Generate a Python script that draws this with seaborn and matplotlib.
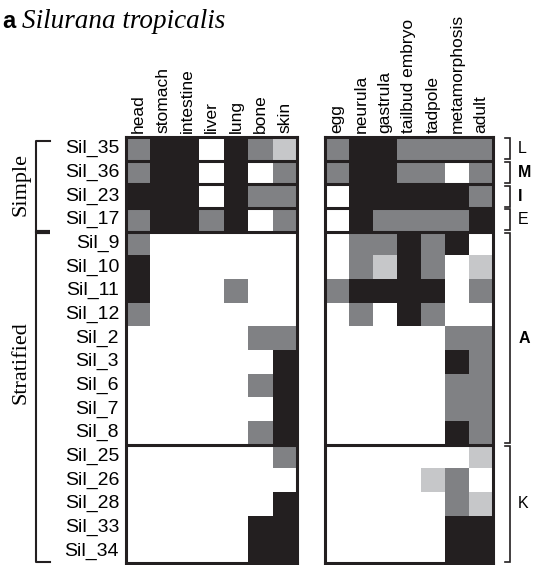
import numpy as np
import pandas as pd
import matplotlib
matplotlib.use("Agg")
import matplotlib.pyplot as plt
from matplotlib.colors import ListedColormap
import seaborn as sns

rows = ["Sil_35", "Sil_36", "Sil_23", "Sil_17", "Sil_9", "Sil_10", "Sil_11", "Sil_12",
        "Sil_2", "Sil_3", "Sil_6", "Sil_7", "Sil_8", "Sil_25", "Sil_26", "Sil_28",
        "Sil_33", "Sil_34"]
tissues = ["head", "stomach", "intestine", "liver", "lung", "bone", "skin"]
stages = ["egg", "neurula", "gastrula", "tailbud embryo", "tadpole", "metamorphosis", "adult"]

# 0 = none, 1 = light, 2 = medium, 3 = strong
tissue_vals = [
    [2, 3, 3, 0, 3, 2, 1],
    [2, 3, 3, 0, 3, 0, 2],
    [3, 3, 3, 0, 3, 2, 2],
    [2, 3, 3, 2, 3, 0, 2],
    [2, 0, 0, 0, 0, 0, 0],
    [3, 0, 0, 0, 0, 0, 0],
    [3, 0, 0, 0, 2, 0, 0],
    [2, 0, 0, 0, 0, 0, 0],
    [0, 0, 0, 0, 0, 2, 2],
    [0, 0, 0, 0, 0, 0, 3],
    [0, 0, 0, 0, 0, 2, 3],
    [0, 0, 0, 0, 0, 0, 3],
    [0, 0, 0, 0, 0, 2, 3],
    [0, 0, 0, 0, 0, 0, 2],
    [0, 0, 0, 0, 0, 0, 0],
    [0, 0, 0, 0, 0, 0, 3],
    [0, 0, 0, 0, 0, 3, 3],
    [0, 0, 0, 0, 0, 3, 3],
]
stage_vals = [
    [2, 3, 3, 2, 2, 2, 2],
    [2, 3, 3, 2, 2, 0, 2],
    [0, 3, 3, 3, 3, 3, 2],
    [0, 3, 2, 2, 2, 2, 3],
    [0, 2, 2, 3, 2, 3, 0],
    [0, 2, 1, 3, 2, 0, 1],
    [2, 3, 3, 3, 3, 0, 2],
    [0, 2, 0, 3, 2, 0, 0],
    [0, 0, 0, 0, 0, 2, 2],
    [0, 0, 0, 0, 0, 3, 2],
    [0, 0, 0, 0, 0, 2, 2],
    [0, 0, 0, 0, 0, 2, 2],
    [0, 0, 0, 0, 0, 3, 2],
    [0, 0, 0, 0, 0, 0, 1],
    [0, 0, 0, 0, 1, 2, 0],
    [0, 0, 0, 0, 0, 2, 1],
    [0, 0, 0, 0, 0, 3, 3],
    [0, 0, 0, 0, 0, 3, 3],
]
class_groups = [("L", 0, 1, "normal"), ("M", 1, 2, "bold"), ("I", 2, 3, "bold"),
                ("E", 3, 4, "normal"), ("A", 4, 13, "bold"), ("K", 13, 18, "normal")]
type_groups = [("Simple", 0, 4), ("Stratified", 4, 18)]
separators = [1, 2, 3, 4, 13]

colors = ["#ffffff", "#c6c7c9", "#808184", "#231f20"]
cmap = ListedColormap(colors)
INK = "#231f20"

W, H = 533, 565
fig = plt.figure(figsize=(W / 100, H / 100), dpi=100)

def px_axes(x0, x1, y0, y1):
    return fig.add_axes([x0 / W, 1 - y1 / H, (x1 - x0) / W, (y1 - y0) / H])

axL = px_axes(126, 297, 137, 563)
axR = px_axes(325, 493, 137, 563)

dfL = pd.DataFrame(tissue_vals, index=rows, columns=tissues)
dfR = pd.DataFrame(stage_vals, index=rows, columns=stages)

for ax, df in [(axL, dfL), (axR, dfR)]:
    sns.heatmap(df, ax=ax, cmap=cmap, vmin=-0.5, vmax=3.5, cbar=False)
    ax.xaxis.tick_top()
    ax.set_xticklabels(df.columns, rotation=90, fontsize=12.5, family="Liberation Sans",
                       va="bottom", ha="center")
    ax.tick_params(axis="x", length=0, pad=3)
    ax.set_xlabel("")
    ax.set_ylabel("")
    for y in separators:
        ax.axhline(y, color=INK, lw=2.2)
    for s in ax.spines.values():
        s.set_visible(True)
        s.set_color(INK)
        s.set_linewidth(2.2)

axL.set_yticklabels(rows, rotation=0, fontsize=14, family="Liberation Sans")
axL.tick_params(axis="y", length=0, pad=5)
axR.set_yticks([])

# right-side class brackets (data units of axR: 1 col = 24 px)
bx, cap = 7.72, 0.2
for lab, a, b, wt in class_groups:
    y0, y1 = a + 0.06, b - 0.06
    axR.plot([bx - cap, bx, bx, bx - cap], [y0, y0, y1, y1], color=INK, lw=1.2,
             clip_on=False, solid_joinstyle="miter")
    axR.text(bx + 0.33, (a + b) / 2, lab, fontsize=11.5, fontweight=wt,
             family="Liberation Sans", va="center", ha="left", clip_on=False)

# left-side type brackets (axL: 1 col = 24.43 px)
lx, lcap = -3.68, 0.57
axL.plot([lx + lcap, lx, lx], [0.15, 0.15, 4], color=INK, lw=1.5, clip_on=False)
axL.plot([lx, lx + lcap], [4, 4], color=INK, lw=3, clip_on=False, solid_capstyle="butt")
axL.plot([lx, lx, lx + lcap], [4, 17.95, 17.95], color=INK, lw=1.5, clip_on=False)
axL.text(-4.3, 2.0, "Simple", rotation=90, fontsize=16, family="Liberation Serif",
         va="center", ha="center", clip_on=False)
axL.text(-4.3, 9.55, "Stratified", rotation=90, fontsize=16, family="Liberation Serif",
         va="center", ha="center", clip_on=False)

fig.text(2 / W, 1 - 22 / H, "a", fontsize=17, fontweight="bold", family="Liberation Sans",
         va="center", ha="left")
fig.text(22 / W, 1 - 22 / H, "Silurana tropicalis", fontsize=19.5, style="italic",
         family="Liberation Serif", va="center", ha="left")

fig.savefig("out.png", dpi=100)
